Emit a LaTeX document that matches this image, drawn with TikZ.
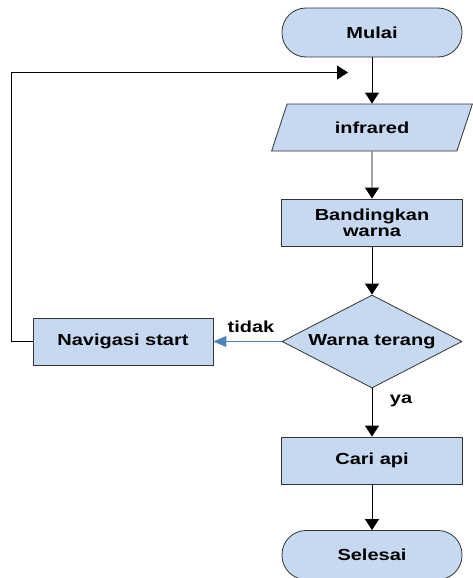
\documentclass[tikz,border=0pt]{standalone}
\usepackage{fontspec}
\setmainfont{Liberation Sans}[FakeStretch=1.25]
\usetikzlibrary{shapes.geometric,arrows.meta}
\definecolor{boxfill}{HTML}{C6D9F1}
\definecolor{boxline}{HTML}{333333}
\definecolor{noline}{HTML}{4F81BD}
\begin{document}
\begin{tikzpicture}[x=1pt,y=-1pt,
                       font=\bfseries\fontsize{16}{18}\selectfont,
                       base/.style={fill=boxfill,draw=boxline,line width=0.8pt,inner sep=0pt},
                       terminal/.style={base,rectangle,rounded corners=24pt,minimum width=180pt,minimum height=49pt},
                       io/.style={base,trapezium,trapezium left angle=60,trapezium right angle=120,trapezium stretches=true,minimum width=202pt,minimum height=47pt},
                       process/.style={base,rectangle,align=center,minimum width=181pt,minimum height=47pt},
                       decision/.style={base,diamond,aspect=1.94,minimum width=180pt,minimum height=93pt},
                       flow/.style={-{Triangle[width=14pt,length=11pt]},black,line width=0.9pt},
                       noflow/.style={-{Triangle[width=11pt,length=13pt]},noline,line width=0.9pt}
                      ]
  \useasboundingbox (0,0) rectangle (473,578);
  \node[terminal] (mulai) at (372,32.5) {Mulai};
  \node[io] (infrared) at (372,127.5) {infrared};
  \node[process] (banding) at (372,222.5) {Bandingkan\\[-2pt]warna};
  \node[decision] (terang) at (372,341.5) {Warna terang};
  \node[process,minimum width=180pt] (navigasi) at (123,341.5) {Navigasi start};
  \node[process] (cari) at (372,460.5) {Cari api};
  \node[terminal] (selesai) at (372,555) {Selesai};
  \node (tidak) at (251,327) {tidak};
  \node (ya) at (401,401) {ya};
  \coordinate (sudut) at (11,72.5);
  \coordinate (balik) at (348,72.5);

  \path%
   (mulai) edge [flow] (infrared)
   (infrared) edge [flow] (banding)
   (banding) edge [flow] (terang)
   (terang) edge [noflow] (navigasi)
   (terang) edge [flow] (cari)
   (cari) edge [flow] (selesai);
  \draw[flow] (navigasi.west) -| (sudut) -- (balik);
 \end{tikzpicture}
\end{document}
